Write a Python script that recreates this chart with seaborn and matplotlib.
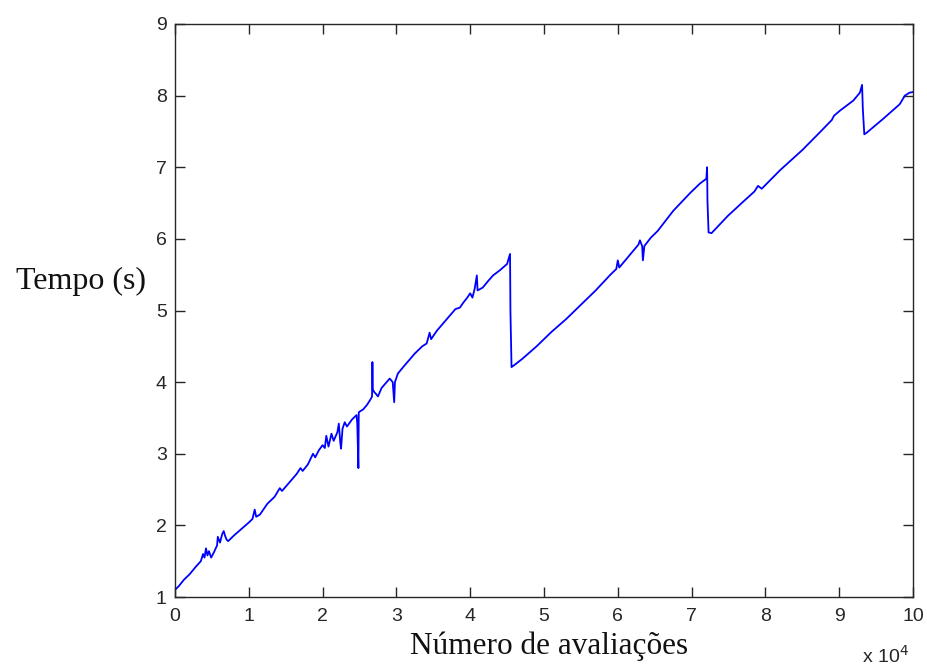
import matplotlib
matplotlib.use("Agg")
import matplotlib.pyplot as plt
import seaborn as sns
import pandas as pd
import numpy as np

# Number of evaluations (in units of 10^4) and elapsed time (s)
avaliacoes = [
    0.00, 0.05, 0.12, 0.20, 0.28, 0.35, 0.38, 0.40, 0.42, 0.44, 0.46, 0.49, 0.53, 0.57, 0.58,
    0.61, 0.64, 0.66, 0.68, 0.70, 0.72, 0.80, 0.90, 1.00, 1.05, 1.08, 1.10, 1.15, 1.25, 1.35,
    1.42, 1.45, 1.55, 1.65, 1.70, 1.73, 1.80, 1.87, 1.90, 1.95, 2.00, 2.03, 2.05, 2.08, 2.12,
    2.15, 2.20, 2.22, 2.24, 2.25, 2.27, 2.30, 2.33, 2.40, 2.46, 2.47, 2.485, 2.49, 2.55, 2.60,
    2.65, 2.67, 2.675, 2.68, 2.70, 2.72, 2.75, 2.80, 2.85, 2.91, 2.95, 2.97, 2.98, 3.02, 3.10,
    3.20, 3.25, 3.35, 3.41, 3.45, 3.47, 3.55, 3.65, 3.75, 3.80, 3.86, 3.90, 3.96, 4.00, 4.03,
    4.06, 4.09, 4.10, 4.17, 4.25, 4.31, 4.40, 4.50, 4.54, 4.545, 4.56, 4.60,
    4.70, 4.90, 5.10, 5.30, 5.49, 5.70, 5.90, 5.98, 6.00, 6.02, 6.15, 6.28, 6.30, 6.33, 6.34,
    6.36, 6.45, 6.54, 6.75, 6.98, 7.11, 7.20, 7.21, 7.215, 7.23, 7.27,
    7.49, 7.70, 7.85, 7.90, 7.95, 8.20, 8.50, 8.74, 8.90, 8.93, 9.01, 9.19, 9.28, 9.31, 9.32,
    9.34, 9.37, 9.60, 9.82, 9.89, 9.95, 10.0,
]
tempo = [
    1.10, 1.15, 1.24, 1.32, 1.42, 1.50, 1.60, 1.55, 1.68, 1.58, 1.64, 1.55, 1.63, 1.72, 1.84,
    1.76, 1.88, 1.92, 1.85, 1.80, 1.78, 1.86, 1.95, 2.04, 2.09, 2.22, 2.12, 2.15, 2.30, 2.40,
    2.52, 2.48, 2.60, 2.72, 2.80, 2.76, 2.85, 3.00, 2.95, 3.05, 3.12, 3.08, 3.25, 3.10, 3.28,
    3.18, 3.30, 3.42, 3.15, 3.07, 3.35, 3.44, 3.38, 3.48, 3.54, 3.42, 2.80, 3.58, 3.62, 3.68,
    3.76, 3.80, 4.28, 3.90, 3.86, 3.84, 3.80, 3.92, 3.98, 4.05, 4.00, 3.72, 4.00, 4.12, 4.22,
    4.34, 4.40, 4.50, 4.54, 4.69, 4.60, 4.72, 4.84, 4.96, 5.02, 5.04, 5.10, 5.18, 5.24, 5.18,
    5.30, 5.49, 5.28, 5.32, 5.42, 5.49, 5.56, 5.65, 5.79, 5.00, 4.21, 4.24,
    4.32, 4.50, 4.70, 4.88, 5.07, 5.28, 5.50, 5.58, 5.70, 5.60, 5.76, 5.92, 5.98, 5.90, 5.70,
    5.90, 6.02, 6.11, 6.39, 6.64, 6.77, 6.84, 7.00, 6.53, 6.09, 6.08,
    6.32, 6.52, 6.66, 6.74, 6.70, 6.96, 7.24, 7.49, 7.66, 7.72, 7.79, 7.93, 8.04, 8.15, 7.82,
    7.46, 7.48, 7.68, 7.88, 8.00, 8.04, 8.05,
]
xticks = [0, 1, 2, 3, 4, 5, 6, 7, 8, 9, 10]
yticks = [1, 2, 3, 4, 5, 6, 7, 8, 9]

df = pd.DataFrame({"x": avaliacoes, "y": tempo})

sns.set_style("white")
plt.rcParams["font.family"] = ["Liberation Sans", "DejaVu Sans"]

fig = plt.figure(figsize=(9.28, 6.70), dpi=100)
ax = fig.add_axes([175/928, 73/670, (913-175)/928, (597-24)/670])

sns.lineplot(data=df, x="x", y="y", ax=ax, color="#0000ff", linewidth=1.3,
             estimator=None, sort=False)

ax.set_xlim(0, 10)
ax.set_ylim(1, 9)
ax.set_xticks(xticks)
ax.set_yticks(yticks)
ax.set_xticklabels([str(t) for t in xticks])
ax.set_yticklabels([str(t) for t in yticks])
ax.tick_params(direction="in", length=7, width=1, colors="#262626", labelsize=14,
               top=True, right=True, bottom=True, left=True)
ax.tick_params(axis="x", pad=8)
ax.tick_params(axis="y", pad=6)
for s in ax.spines.values():
    s.set_visible(True)
    s.set_color("#262626")
    s.set_linewidth(1.0)

ax.set_xlabel("")
ax.set_ylabel("")
fig.text(549/928, 1 - 646/670, "Número de avaliações", family=["Liberation Serif", "DejaVu Serif"],
         fontsize=22.5, ha="center", va="center", color="#111111")
fig.text(81/928, 1 - 281/670, "Tempo (s)", family=["Liberation Serif", "DejaVu Serif"],
         fontsize=23, ha="center", va="center", color="#111111")
fig.text(862/928, 1 - 656/670, r"x 10$^{4}$", fontsize=14, ha="left", va="center",
         color="#262626")

fig.savefig("out.png", dpi=100, facecolor="white")
